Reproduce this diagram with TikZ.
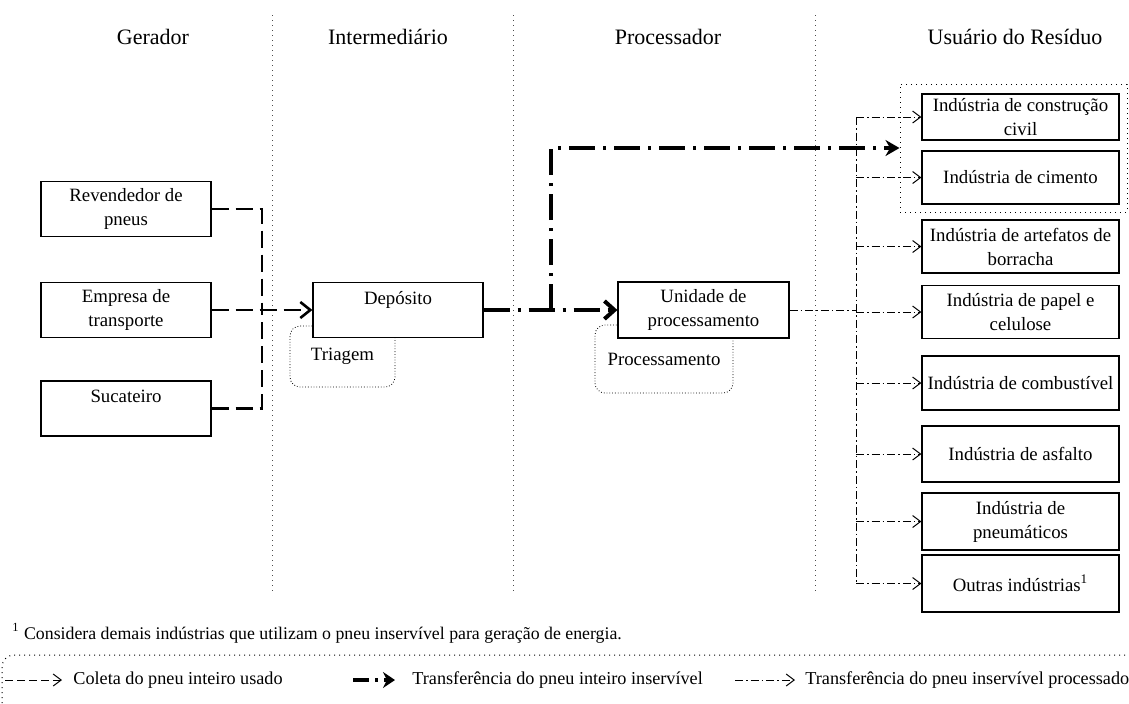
\documentclass[tikz,border=0pt]{standalone}
\usepackage{fontspec}
\setmainfont{Liberation Serif}
\usetikzlibrary{arrows.meta}

\begin{document}
\begin{tikzpicture}[x=0.5pt, y=-0.5pt,
    caixa/.style={rectangle, draw, fill=white, line width=0.6pt, align=center, inner sep=0pt, font=\fontsize{9.4}{12}\selectfont},
    etapa/.style={rectangle, rounded corners=5pt, draw, densely dotted, line width=0.4pt, inner sep=0pt, font=\fontsize{9.4}{12}\selectfont},
    titulo/.style={font=\fontsize{11}{13}\selectfont},
    legenda/.style={anchor=west, inner sep=0pt, font=\fontsize{9.1}{11}\selectfont},
    coleta/.style={line width=1.3pt, dash pattern=on 8.5pt off 3.5pt},
    inteiro/.style={line width=2pt, dash pattern=on 13pt off 4pt on 1.5pt off 4pt},
    processado/.style={line width=0.5pt, dash pattern=on 4pt off 1.5pt on 0.8pt off 1.5pt}]

    \useasboundingbox (0,0) rectangle (1129,703);

    % Cabeçalhos e divisórias
    \node (ger) [titulo] at (153,37) {Gerador};
    \node (int) [titulo] at (388,37) {Intermediário};
    \node (pro) [titulo] at (668,37) {Processador};
    \node (usu) [titulo] at (1015,37) {Usuário do Resíduo};
    \foreach \x in {272,513,815}
        \draw [dotted, black!70, line width=0.5pt] (\x,15) -- (\x,592);

    % Geradores
    \node (rev) [caixa, minimum width=85pt, minimum height=27.5pt] at (126,209) {Revendedor de\\pneus};
    \node (emp) [caixa, minimum width=85pt, minimum height=27.5pt] at (126,310) {Empresa de\\transporte};
    \node (suc) [caixa, minimum width=85pt, minimum height=27.5pt] at (126,408.5) {Sucateiro\\~};

    % Intermediário
    \node (tri) [etapa, minimum width=52.5pt, minimum height=30.5pt] at (342.5,356.5) {Triagem};
    \node (dep) [caixa, minimum width=85pt, minimum height=27.5pt] at (398,310) {Depósito\\~};

    % Processador
    \node (prc) [etapa, minimum width=69pt, minimum height=34pt] at (664,359) {Processamento};
    \node (uni) [caixa, minimum width=85.5pt, minimum height=28pt] at (703.5,310) {Unidade de\\processamento};

    % Usuários do resíduo
    \node (grupo) [rectangle, draw, dotted, line width=0.5pt, minimum width=113.5pt, minimum height=64pt] at (1013.5,148) {};
    \foreach \nome/\y/\h/\texto in {
        ind1/117/23/{Indústria de construção\\civil},
        ind2/177.5/26.5/{Indústria de cimento},
        ind3/246.5/26.5/{Indústria de artefatos de\\borracha},
        ind4/312/26.5/{Indústria de papel e\\celulose},
        ind5/383/27/{Indústria de combustível},
        ind6/454/28/{Indústria de asfalto},
        ind7/521.5/28.5/{Indústria de\\pneumáticos},
        ind8/583.5/28.5/{Outras indústrias\textsuperscript{1}}}
        \node (\nome) [caixa, minimum width=98.5pt, minimum height=\h pt] at (1020.5,\y) {\texto};

    % Coleta do pneu inteiro usado
    \coordinate (barra) at (262,310);
    \draw [coleta] (rev.east) -| (barra);
    \draw [coleta] (suc.east) -| (barra);
    \draw [coleta, -{Straight Barb[length=5pt, width=8pt]}] (emp.east) -- (dep.west);

    % Transferência do pneu inteiro inservível
    \coordinate (desvio) at (551,310);
    \draw [inteiro, -{Straight Barb[length=5pt, width=9pt]}] (dep.east) -- (uni.west);
    \draw [inteiro, -{Stealth[length=7pt, width=8pt]}] (desvio) |- (grupo.west);

    % Transferência do pneu inservível processado
    \coordinate (bus) at (856,310);
    \draw [processado] (uni.east) -- (bus);
    \draw [processado] (ind1.west -| bus) -- (ind8.west -| bus);
    \foreach \i in {1,...,8}
        \draw [processado, -{Straight Barb[length=4pt, width=6pt]}] (ind\i.west -| bus) -- (ind\i.west);

    % Nota
    \node (nota) [anchor=west, inner sep=0pt, font=\fontsize{8.9}{10}\selectfont] at (12,633) {\textsuperscript{1} Considera demais indústrias que utilizam o pneu inservível para geração de energia.};

    % Legenda
    \draw [dotted, line width=0.5pt, rounded corners=6pt] (2,655) rectangle (1160,740);
    \node (leg1) [legenda] at (73,680) {Coleta do pneu inteiro usado};
    \node (leg2) [legenda] at (412,680) {Transferência do pneu inteiro inservível};
    \node (leg3) [legenda] at (805,680) {Transferência do pneu inservível processado};
    \coordinate (l1) at (5,680);
    \coordinate (l2) at (353,680);
    \coordinate (l3) at (735,680);
    \draw [line width=0.5pt, dash pattern=on 4pt off 2pt, -{Straight Barb[length=4pt, width=6pt]}] (l1) -- ([xshift=-5.5pt]leg1.west);
    \draw [line width=2pt, dash pattern=on 8pt off 3pt on 1.5pt off 3pt, -{Stealth[length=6pt, width=8pt]}] (l2) -- ([xshift=-8.5pt]leg2.west);
    \draw [processado, -{Straight Barb[length=4pt, width=6pt]}] (l3) -- ([xshift=-5pt]leg3.west);
\end{tikzpicture}
\end{document}
